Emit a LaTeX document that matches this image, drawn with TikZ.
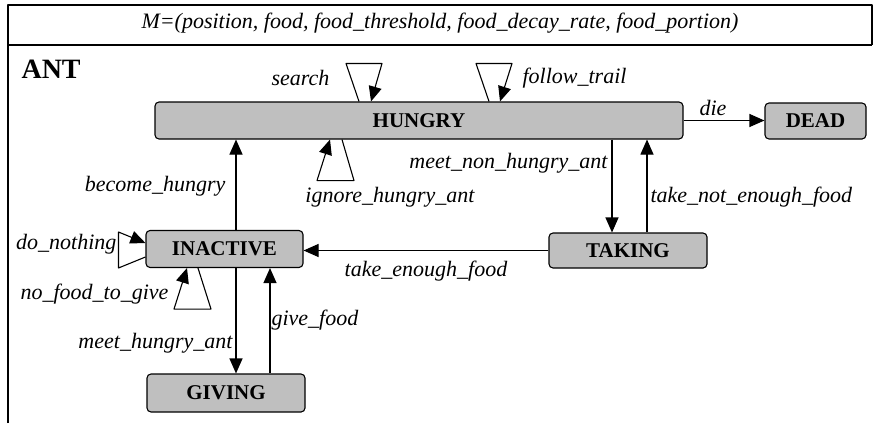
\documentclass[tikz,border=0pt]{standalone}
\usepackage{fontspec}
\setmainfont{Liberation Serif}
\usetikzlibrary{arrows.meta}
\begin{document}
\begin{tikzpicture}[x=1pt,y=-1pt,line width=1.1pt,line join=round,>={Triangle[length=15pt,width=13pt]}]
\tikzset{state/.style={draw,rounded corners=4pt,fill=black!25,inner sep=0pt,font=\fontsize{21}{24}\selectfont\bfseries},
  lbl/.style={inner sep=1pt,font=\fontsize{22}{24}\selectfont\itshape}}
\useasboundingbox (0,0) rectangle (874,423);
% frame
\draw[line width=1.3pt] (8,423)--(8,5)--(872,5)--(872,45);
\draw[line width=1.3pt] (8,45)--(872,45);
\node[lbl] (model) at (440,23) {M=(position, food, food\_threshold, food\_decay\_rate, food\_portion)};
\node[anchor=west,inner sep=0pt,font=\fontsize{28}{30}\selectfont\bfseries] (ant) at (21,69) {ANT};
% states
\node[state,minimum width=528pt,minimum height=37pt] (hungry) at (419,120.5) {HUNGRY};
\node[state,minimum width=101pt,minimum height=36pt] (dead) at (815.5,121) {DEAD};
\node[state,minimum width=157pt,minimum height=37pt] (inactive) at (224.5,249) {INACTIVE};
\node[state,minimum width=158pt,minimum height=35pt] (taking) at (628,250.5) {TAKING};
\node[state,minimum width=158pt,minimum height=38pt] (giving) at (226,393) {GIVING};
% transitions
\draw[->] (hungry.east)--(hungry.east -| dead.west);
\draw[->] ([xshift=11.5pt]inactive.north)--([xshift=11.5pt]inactive.north |- hungry.south);
\draw[->] ([xshift=-16pt]taking.north |- hungry.south)--([xshift=-16pt]taking.north);
\draw[->] ([xshift=19pt]taking.north)--([xshift=19pt]taking.north |- hungry.south);
\draw[->] (taking.west)--(taking.west -| inactive.east);
\draw[->] ([xshift=11.5pt]inactive.south)--([xshift=11.5pt]inactive.south |- giving.north);
\draw[->] ([xshift=44pt]giving.north)--([xshift=44pt]giving.north |- inactive.south);
% self loops
\draw[->] ([xshift=-60pt]hungry.north)--++(-13,-38)--++(36,0)--([xshift=-48pt]hungry.north);
\draw[->] ([xshift=70pt]hungry.north)--++(-13,-38)--++(36,0)--([xshift=81pt]hungry.north);
\draw[->] ([xshift=-77pt]hungry.south)--++(12,41)--++(-37,0)--([xshift=-89pt]hungry.south);
\draw[->] ([yshift=-8pt]inactive.west)--++(-27,11)--++(0,-36)--([yshift=6pt]inactive.west);
\draw[->] ([xshift=-26.5pt]inactive.south)--++(13,41)--++(-37,0)--([xshift=-37.5pt]inactive.south);
% labels
\node[lbl,anchor=east] (lsearch) at (331,78) {search};
\node[lbl,anchor=west] (lfollow) at (521,78) {follow\_trail};
\node[lbl] (ldie) at (713,108) {die};
\node[lbl,anchor=east] (lmeetnon) at (609,163) {meet\_non\_hungry\_ant};
\node[lbl,anchor=west] (ltakenot) at (649,197) {take\_not\_enough\_food};
\node[lbl] (lignore) at (390,197) {ignore\_hungry\_ant};
\node[lbl,anchor=east] (lbecome) at (227,186) {become\_hungry};
\node[lbl] (ltakeenough) at (426,271) {take\_enough\_food};
\node[lbl,anchor=east] (lnothing) at (118,244) {do\_nothing};
\node[lbl,anchor=east] (lnofood) at (170,294) {no\_food\_to\_give};
\node[lbl,anchor=east] (lmeet) at (234,343) {meet\_hungry\_ant};
\node[lbl,anchor=west] (lgive) at (270,320) {give\_food};
\end{tikzpicture}
\end{document}
